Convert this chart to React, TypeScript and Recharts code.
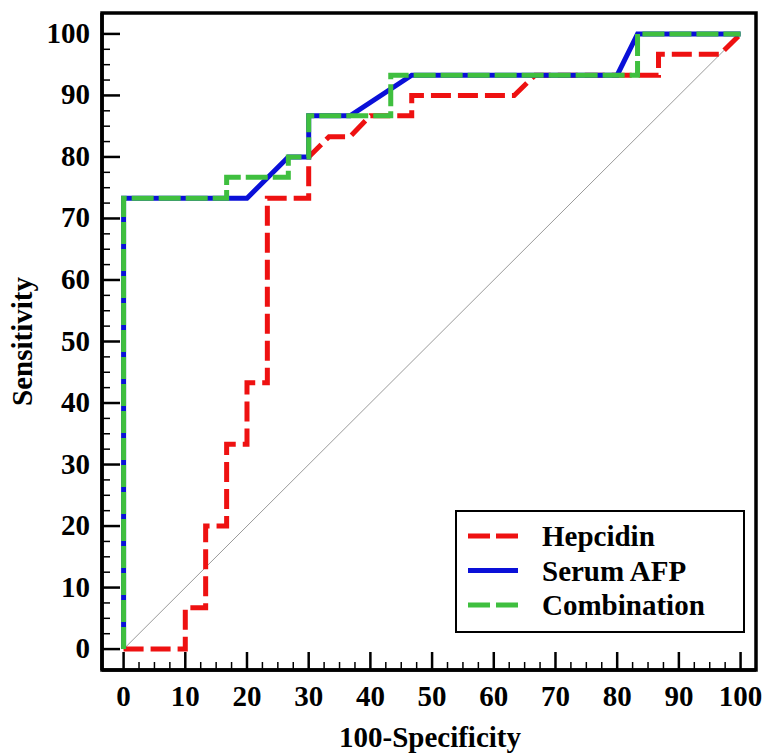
import React from 'react';
import { LineChart, Line, XAxis, YAxis, Legend, ReferenceArea, Label } from 'recharts';

// ROC curves, values (100-Specificity vs Sensitivity)
const HEPCIDIN_FPR = [0, 10, 10, 13.3, 13.3, 16.7, 16.7, 20, 20, 23.3, 23.3, 30, 30, 33.3, 36.7, 40, 46.7, 46.7, 63.3, 66.7, 86.7, 86.7, 96.7, 100];
const HEPCIDIN_TPR = [0, 0, 6.7, 6.7, 20, 20, 33.3, 33.3, 43.3, 43.3, 73.3, 73.3, 80, 83.3, 83.3, 86.7, 86.7, 90, 90, 93.3, 93.3, 96.7, 96.7, 100];

const AFP_FPR = [0, 0, 20, 26.7, 30, 30, 36.7, 46.7, 80, 83.3, 100];
const AFP_TPR = [0, 73.3, 73.3, 80, 80, 86.7, 86.7, 93.3, 93.3, 100, 100];

const COMBO_FPR = [0, 0, 16.7, 16.7, 26.7, 26.7, 30, 30, 43.3, 43.3, 83.3, 83.3, 100];
const COMBO_TPR = [0, 73.3, 73.3, 76.7, 76.7, 80, 80, 86.7, 86.7, 93.3, 93.3, 100, 100];

const DIAG_FPR = [0, 100];
const DIAG_TPR = [0, 100];

const SERIES_NAMES = ['Hepcidin', 'Serum AFP', 'Combination'];
const MAJOR_TICKS = [0, 10, 20, 30, 40, 50, 60, 70, 80, 90, 100];
const MINOR_STEP = 2.5;

const zip = (xs: number[], ys: number[]) => xs.map((x, i) => ({ x, y: ys[i] }));

const hepcidinData = zip(HEPCIDIN_FPR, HEPCIDIN_TPR);
const afpData = zip(AFP_FPR, AFP_TPR);
const comboData = zip(COMBO_FPR, COMBO_TPR);
const diagData = zip(DIAG_FPR, DIAG_TPR);

const allTicks: number[] = [];
for (let v = 0; v <= 100; v += MINOR_STEP) allTicks.push(v);

const SERIES_STYLE: Record<string, { dash?: string }> = {
  Hepcidin: { dash: '22 6' },
  'Serum AFP': {},
  Combination: { dash: '22 6' },
};

const font = {
  fontFamily: '"Liberation Serif", "Times New Roman", serif',
  fontWeight: 'bold' as const,
  fontSize: 29,
  fill: '#000',
};

const XTick = (props: any) => {
  const { x, y, payload } = props;
  const major = MAJOR_TICKS.includes(payload.value);
  return (
    <g>
      <line x1={x} x2={x} y1={y} y2={y - (major ? 18 : 8)} stroke="#000" strokeWidth={major ? 2.5 : 1.5} />
      {major && (
        <text x={x} y={y + 36} textAnchor="middle" style={font}>
          {payload.value}
        </text>
      )}
    </g>
  );
};

const YTick = (props: any) => {
  const { x, y, payload } = props;
  const major = MAJOR_TICKS.includes(payload.value);
  return (
    <g>
      <line x1={x} x2={x + (major ? 18 : 8)} y1={y} y2={y} stroke="#000" strokeWidth={major ? 2.5 : 1.5} />
      {major && (
        <text x={x - 12} y={y + 9} textAnchor="end" style={font}>
          {payload.value}
        </text>
      )}
    </g>
  );
};

const renderLegend = (props: any) => {
  const items = (props.payload || [])
    .filter((p: any) => SERIES_NAMES.includes(p.value))
    .sort((a: any, b: any) => SERIES_NAMES.indexOf(a.value) - SERIES_NAMES.indexOf(b.value));
  return (
    <div style={{ width: 290, height: 123, border: '2px solid #000', boxSizing: 'border-box', background: '#fff' }}>
      <svg width={286} height={119}>
        {items.map((it: any, i: number) => {
          const base = 34 + i * 34.5;
          const st = SERIES_STYLE[it.value] || {};
          return (
            <g key={it.value}>
              <line x1={11} x2={61} y1={base - 10} y2={base - 10} stroke={it.color} strokeWidth={5} strokeDasharray={st.dash} />
              <text x={85} y={base} style={font}>{it.value}</text>
            </g>
          );
        })}
      </svg>
    </div>
  );
};

export default function App() {
  return (
    <div style={{ position: 'absolute', left: 0, top: 0, background: '#fff' }}>
      <LineChart width={764} height={754} margin={{ top: 13, right: 8, bottom: 0, left: 0 }}>
        <XAxis
          type="number"
          dataKey="x"
          domain={[-3.5, 102.5]}
          ticks={allTicks}
          interval={0}
          allowDataOverflow
          tick={(p: any) => <XTick {...p} />}
          tickLine={false}
          tickSize={0}
          tickMargin={0}
          axisLine={{ stroke: '#000', strokeWidth: 3.5 }}
          height={84}
        >
          <Label
            content={(p: any) => {
              const vb = p.viewBox || { x: 102, y: 670, width: 654 };
              return (
                <text x={vb.x + vb.width / 2 + 1} y={vb.y + 77} textAnchor="middle" style={font}>
                  100-Specificity
                </text>
              );
            }}
          />
        </XAxis>
        <YAxis
          type="number"
          dataKey="y"
          domain={[-3.4, 103.4]}
          ticks={allTicks}
          interval={0}
          allowDataOverflow
          tick={(p: any) => <YTick {...p} />}
          tickLine={false}
          tickSize={0}
          tickMargin={0}
          axisLine={{ stroke: '#000', strokeWidth: 3.5 }}
          width={102}
        >
          <Label
            content={(p: any) => {
              const vb = p.viewBox || { x: 0, y: 13, height: 657 };
              const cx = vb.x + 32;
              const cy = vb.y + vb.height / 2;
              return (
                <text x={cx} y={cy} textAnchor="middle" transform={`rotate(-90, ${cx}, ${cy})`} style={font}>
                  Sensitivity
                </text>
              );
            }}
          />
        </YAxis>
        <ReferenceArea
          x1={-3.5}
          x2={102.5}
          y1={-3.4}
          y2={103.4}
          fill="none"
          stroke="#000"
          strokeWidth={3.5}
          ifOverflow="visible"
        />
        <Line
          data={diagData}
          dataKey="y"
          name="diag"
          stroke="#9a9a9a"
          strokeWidth={1}
          dot={false}
          activeDot={false}
          legendType="none"
          isAnimationActive={false}
        />
        <Line
          data={hepcidinData}
          dataKey="y"
          name="Hepcidin"
          stroke="#ee1111"
          strokeWidth={5}
          strokeDasharray="20 7"
          dot={false}
          activeDot={false}
          isAnimationActive={false}
        />
        <Line
          data={afpData}
          dataKey="y"
          name="Serum AFP"
          stroke="#0a10d8"
          strokeWidth={5}
          dot={false}
          activeDot={false}
          isAnimationActive={false}
        />
        <Line
          data={comboData}
          dataKey="y"
          name="Combination"
          stroke="#3fbf3f"
          strokeWidth={5}
          strokeDasharray="22 5"
          dot={false}
          activeDot={false}
          isAnimationActive={false}
        />
        <Legend
          layout="horizontal"
          verticalAlign="middle"
          align="center"
          content={renderLegend}
          wrapperStyle={{ left: 455, top: 510, width: 290, height: 123 }}
        />
      </LineChart>
    </div>
  );
}
